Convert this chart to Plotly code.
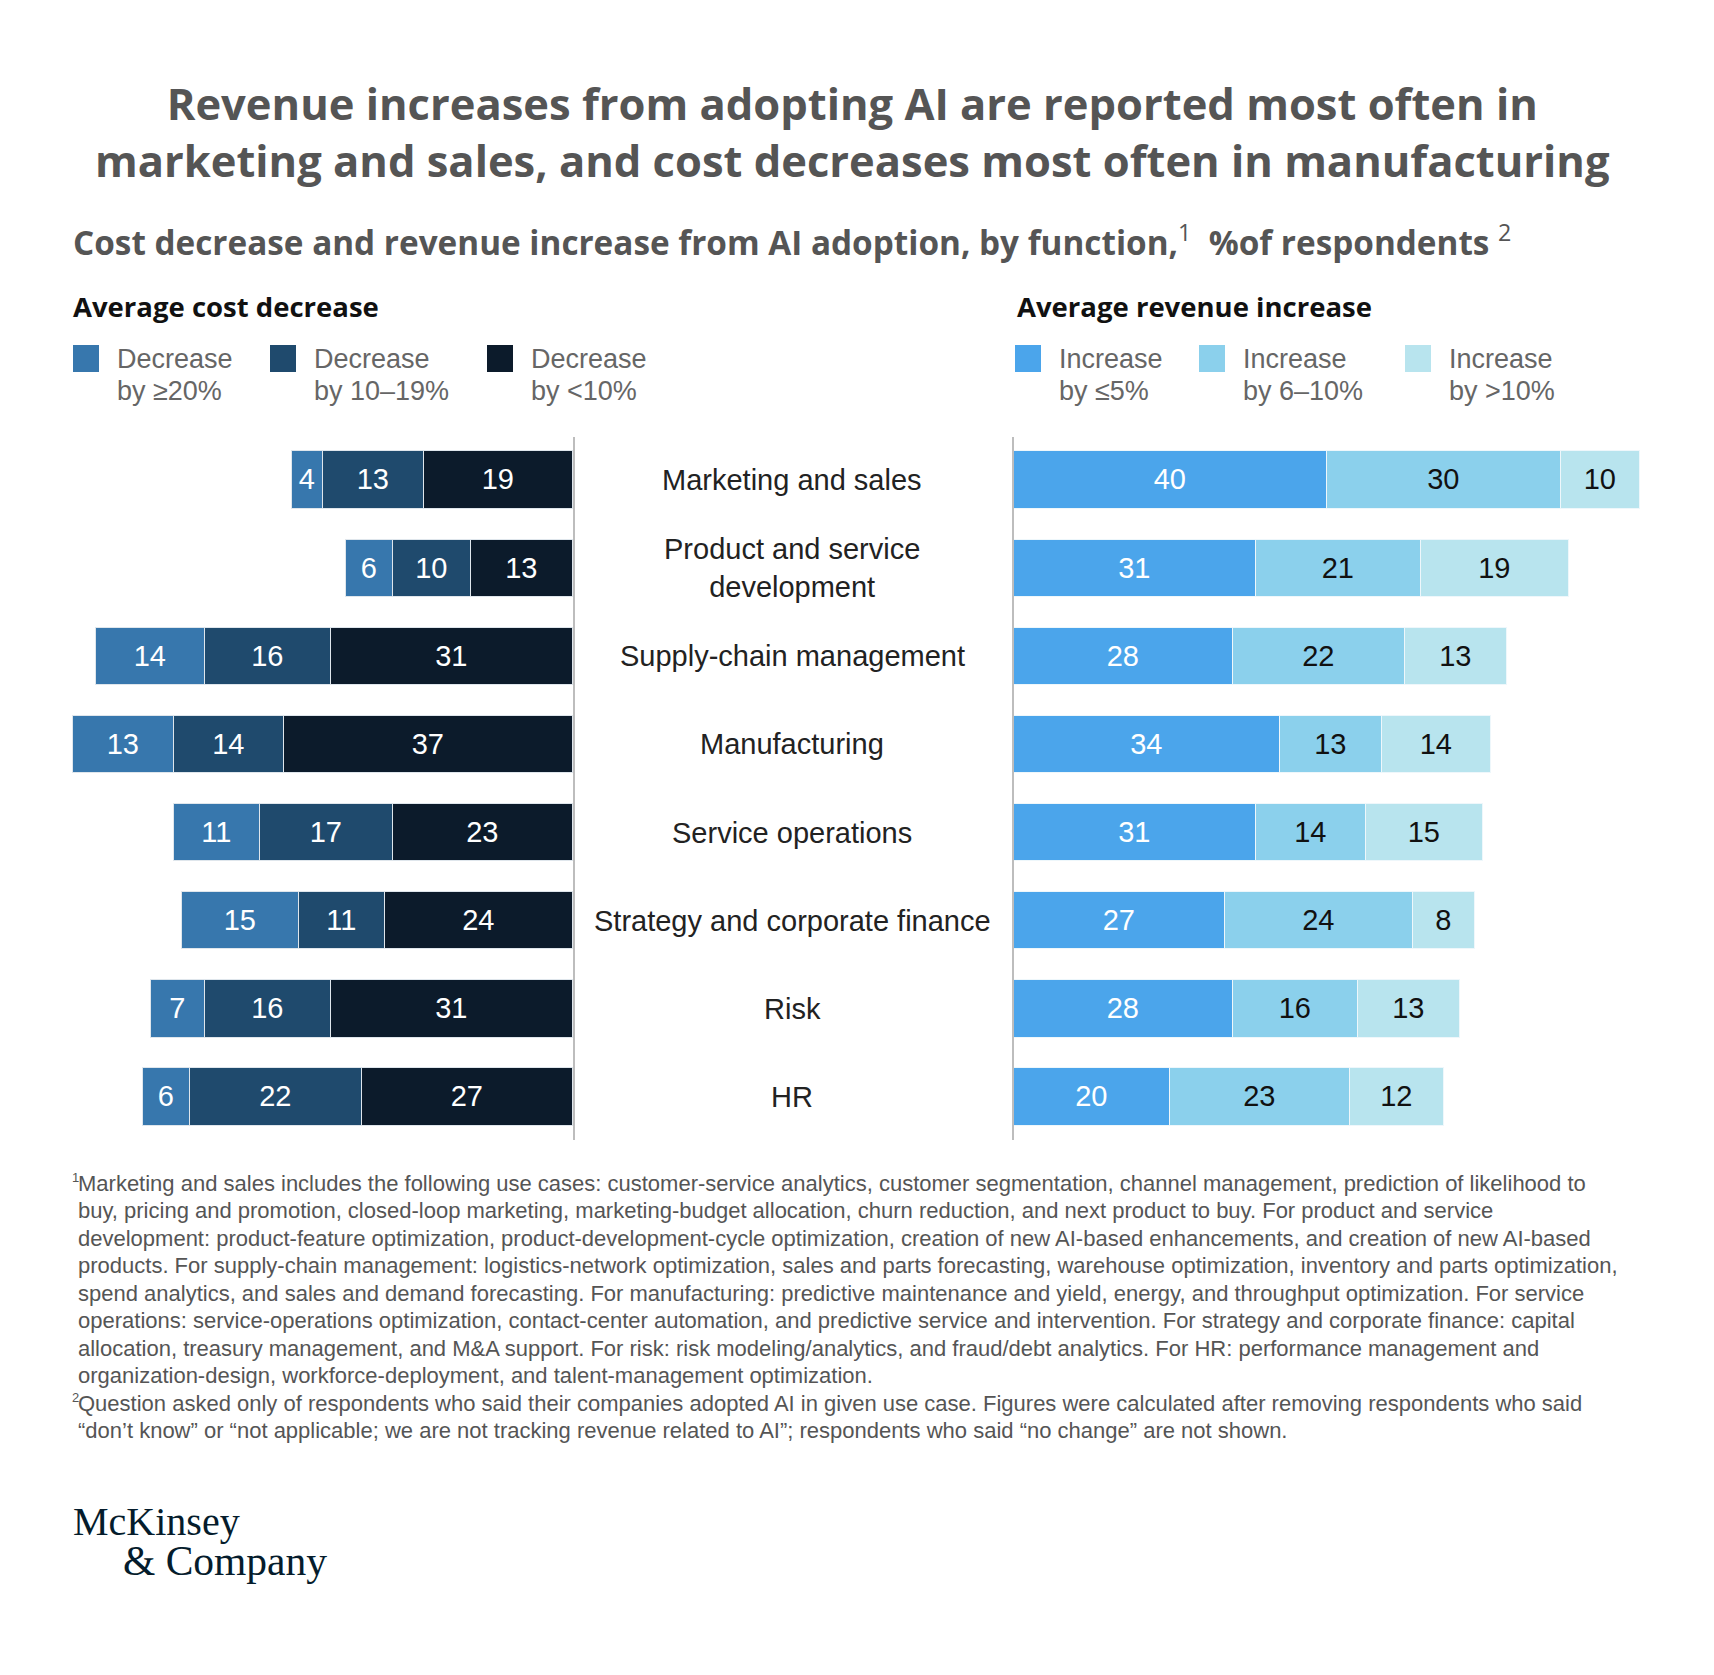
import plotly.graph_objects as go

W, H = 1714, 1675

functions = ["Marketing and sales", "Product and service<br>development", "Supply-chain management",
             "Manufacturing", "Service operations", "Strategy and corporate finance", "Risk", "HR"]

cost_names = [("Decrease", "by ≥20%"), ("Decrease", "by 10–19%"), ("Decrease", "by <10%")]
cost_ge20 = [4, 6, 14, 13, 11, 15, 7, 6]
cost_10_19 = [13, 10, 16, 14, 17, 11, 16, 22]
cost_lt10 = [19, 13, 31, 37, 23, 24, 31, 27]

rev_names = [("Increase", "by ≤5%"), ("Increase", "by 6–10%"), ("Increase", "by >10%")]
rev_le5 = [40, 31, 28, 34, 31, 27, 28, 20]
rev_6_10 = [30, 21, 22, 13, 14, 24, 16, 23]
rev_gt10 = [10, 19, 13, 14, 15, 8, 13, 12]

cost_colors = ["#3777ad", "#1f4a6d", "#0c1b2b"]
rev_colors = ["#4ba5eb", "#8bd0ec", "#b8e4ee"]

title_lines = ["Revenue increases from adopting AI are reported most often in",
               "marketing and sales, and cost decreases most often in manufacturing"]

foot1 = [
    "Marketing and sales includes the following use cases: customer-service analytics, customer segmentation, channel management, prediction of likelihood to",
    "buy, pricing and promotion, closed-loop marketing, marketing-budget allocation, churn reduction, and next product to buy. For product and service",
    "development: product-feature optimization, product-development-cycle optimization, creation of new AI-based enhancements, and creation of new AI-based",
    "products. For supply-chain management: logistics-network optimization, sales and parts forecasting, warehouse optimization, inventory and parts optimization,",
    "spend analytics, and sales and demand forecasting. For manufacturing: predictive maintenance and yield, energy, and throughput optimization. For service",
    "operations: service-operations optimization, contact-center automation, and predictive service and intervention. For strategy and corporate finance: capital",
    "allocation, treasury management, and M&amp;A support. For risk: risk modeling/analytics, and fraud/debt analytics. For HR: performance management and",
    "organization-design, workforce-deployment, and talent-management optimization.",
]
foot2 = [
    "Question asked only of respondents who said their companies adopted AI in given use case. Figures were calculated after removing respondents who said",
    "“don’t know” or “not applicable; we are not tracking revenue related to AI”; respondents who said “no change” are not shown.",
]


def px(x):
    return x / W


def py(y):
    return 1 - y / H


fig = go.Figure()

# left side: cost decrease, stacked from the axis line outwards (<10% next to the line)
for vals, name, col in zip([cost_lt10, cost_10_19, cost_ge20], cost_names[::-1], cost_colors[::-1]):
    fig.add_trace(go.Bar(y=functions, x=vals, name=" ".join(name), orientation="h", width=0.653,
                         marker=dict(color=col, line=dict(color="#dfe6ec", width=1.5)),
                         text=vals, textposition="inside", insidetextanchor="middle", textangle=0,
                         textfont=dict(color="white", size=29, family="Liberation Sans"),
                         xaxis="x", yaxis="y", showlegend=False, hoverinfo="skip"))

# right side: revenue increase
for i, (vals, name, col) in enumerate(zip([rev_le5, rev_6_10, rev_gt10], rev_names, rev_colors)):
    fig.add_trace(go.Bar(y=functions, x=vals, name=" ".join(name), orientation="h", width=0.653,
                         marker=dict(color=col, line=dict(color="#eef7fb", width=1.5)),
                         text=vals, textposition="inside", insidetextanchor="middle", textangle=0,
                         textfont=dict(color="white" if i == 0 else "#111111", size=29, family="Liberation Sans"),
                         xaxis="x2", yaxis="y2", showlegend=False, hoverinfo="skip"))

ydom = [py(1132), py(429)]
fig.update_layout(
    width=W, height=H, margin=dict(l=0, r=0, t=0, b=0),
    paper_bgcolor="white", plot_bgcolor="white", barmode="stack", bargap=0,
    uniformtext=dict(minsize=29, mode="show"),
    xaxis=dict(domain=[px(64), px(565)], range=[64.07, 0], visible=False, fixedrange=True),
    xaxis2=dict(domain=[px(1006), px(1652)], range=[0, 82.6], visible=False, fixedrange=True),
    yaxis=dict(domain=ydom, anchor="x", side="right", categoryorder="array", categoryarray=functions,
               range=[7.49, -0.49], showticklabels=False, showgrid=False, zeroline=False,
               showline=True, linecolor="#bdbdbd", linewidth=2, ticks=""),
    yaxis2=dict(domain=ydom, anchor="x2", side="left", categoryorder="array", categoryarray=functions,
                range=[7.49, -0.49], showticklabels=False, showgrid=False, zeroline=False,
                showline=True, linecolor="#bdbdbd", linewidth=2, ticks=""),
)

ann = []
# category labels in the middle column
for f in functions:
    ann.append(dict(x=px(784), y=f, xref="paper", yref="y", text=f, showarrow=False,
                    font=dict(size=29, color="#222222", family="Liberation Sans"), align="center"))

ann.append(dict(x=px(844), y=py(124), xref="paper", yref="paper", xanchor="center", yanchor="middle",
                text="<br>".join("<b>" + t + "</b>" for t in title_lines), showarrow=False, align="center",
                font=dict(size=43.5, color="#555555", family="Open Sans")))
ann.append(dict(x=px(63), y=py(232), xref="paper", yref="paper", xanchor="left", yanchor="middle",
                text="<b>Cost decrease and revenue increase from AI adoption, by function,</b><sup>1</sup>"
                     "  <b>%of respondents</b> <sup>2</sup>",
                showarrow=False, font=dict(size=33.3, color="#555555", family="Open Sans")))
ann.append(dict(x=px(63), y=py(299), xref="paper", yref="paper", xanchor="left", yanchor="middle",
                text="<b>Average cost decrease</b>", showarrow=False,
                font=dict(size=27.5, color="#111111", family="Open Sans")))
ann.append(dict(x=px(1007), y=py(299), xref="paper", yref="paper", xanchor="left", yanchor="middle",
                text="<b>Average revenue increase</b>", showarrow=False,
                font=dict(size=27.5, color="#111111", family="Open Sans")))

shapes = []
for xs, names, cols in [([65, 262, 479], cost_names, cost_colors), ([1007, 1191, 1397], rev_names, rev_colors)]:
    for x0, name, col in zip(xs, names, cols):
        shapes.append(dict(type="rect", xref="paper", yref="paper", x0=px(x0), x1=px(x0 + 26),
                           y0=py(364), y1=py(337), fillcolor=col, line=dict(width=0)))
        for part, yy in zip(name, [351, 383]):
            ann.append(dict(x=px(x0 + 42), y=py(yy), xref="paper", yref="paper", xanchor="left",
                            yanchor="middle", text=part, showarrow=False, align="left",
                            font=dict(size=27, color="#666666", family="Liberation Sans")))

# footnotes, one line each so the spacing follows the reference
for k, line in enumerate(foot1 + foot2):
    ann.append(dict(x=px(68), y=py(1175 + 27.5 * k), xref="paper", yref="paper", xanchor="left",
                    yanchor="middle", text=line, showarrow=False, align="left",
                    font=dict(size=22, color="#555555", family="Liberation Sans")))
for s, k in [("1", 0), ("2", len(foot1))]:
    ann.append(dict(x=px(62), y=py(1169 + 27.5 * k), xref="paper", yref="paper", xanchor="left",
                    yanchor="middle", text=s, showarrow=False,
                    font=dict(size=13, color="#555555", family="Liberation Sans")))

ann.append(dict(x=px(63), y=py(1513), xref="paper", yref="paper", xanchor="left", yanchor="middle",
                text="McKinsey", showarrow=False, font=dict(size=40, color="#051c2c", family="Liberation Serif")))
ann.append(dict(x=px(113), y=py(1553), xref="paper", yref="paper", xanchor="left", yanchor="middle",
                text="&amp; Company", showarrow=False, font=dict(size=41.5, color="#051c2c", family="Liberation Serif")))

fig.update_layout(annotations=ann, shapes=shapes)
fig.write_html("out.html")
